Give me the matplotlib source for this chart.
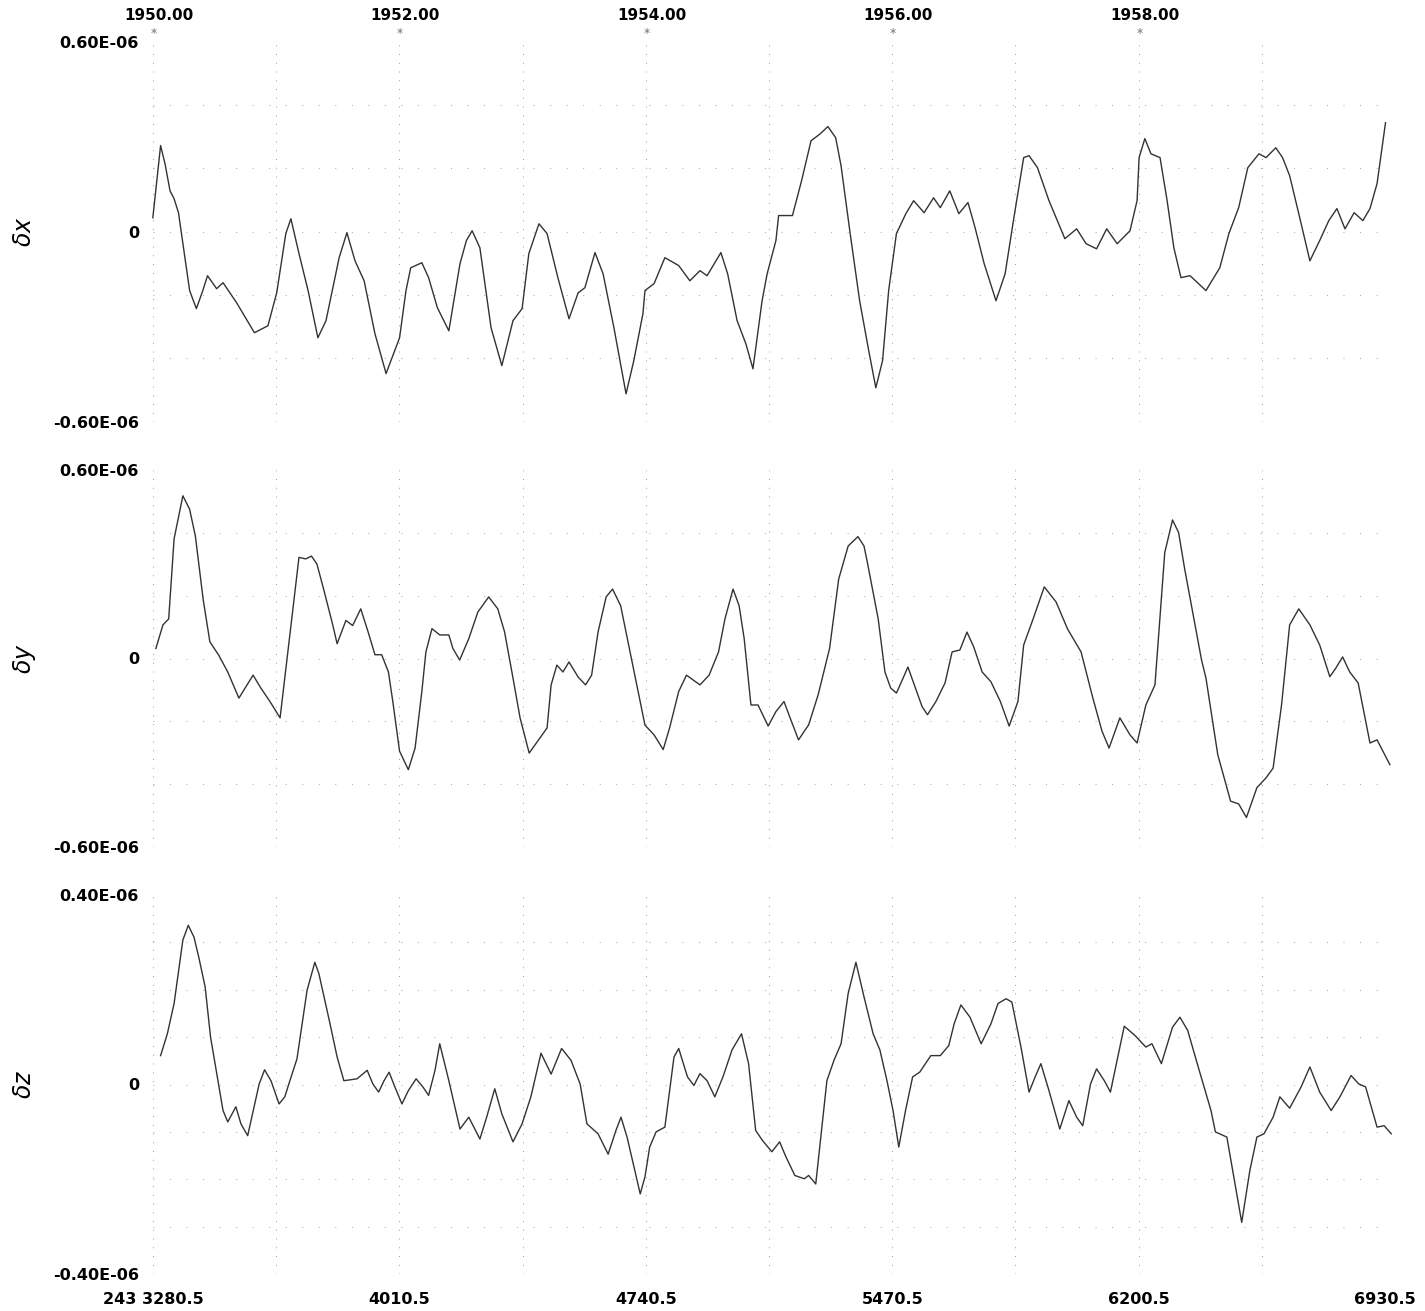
import numpy as np
import matplotlib
matplotlib.use("Agg")
import matplotlib.pyplot as plt

# julian date minus 2430000, values in units of 1E-06
dx_days = [3280, 3303, 3316, 3331, 3343, 3356, 3389, 3409, 3428, 3442, 3469, 3488, 3528, 3581, 3621, 3647,
           3674, 3689, 3713, 3740, 3769, 3793, 3832, 3855, 3879, 3906, 3938, 3971, 4011, 4030, 4044, 4077,
           4097, 4123, 4157, 4190, 4209, 4226, 4249, 4282, 4314, 4347, 4374, 4394, 4424, 4448, 4480, 4513,
           4540, 4560, 4590, 4614, 4646, 4682, 4705, 4732, 4738, 4765, 4797, 4838, 4871, 4901, 4922, 4963,
           4983, 5011, 5037, 5058, 5085, 5100, 5126, 5134, 5175, 5202, 5230, 5257, 5280, 5303, 5319, 5346,
           5374, 5401, 5422, 5442, 5460, 5483, 5511, 5534, 5565, 5593, 5613, 5641, 5668, 5695, 5716, 5743,
           5778, 5805, 5831, 5860, 5876, 5901, 5935, 5956, 5982, 6017, 6045, 6076, 6106, 6137, 6175, 6196,
           6202, 6219, 6237, 6264, 6285, 6305, 6326, 6353, 6400, 6441, 6468, 6497, 6524, 6557, 6578, 6607,
           6627, 6648, 6675, 6708, 6737, 6764, 6788, 6812, 6839, 6865, 6886, 6907, 6932]
dx_vals = [0.044, 0.272, 0.215, 0.129, 0.104, 0.060, -0.186, -0.243, -0.186, -0.139, -0.180, -0.161, -0.224,
           -0.319, -0.297, -0.193, -0.006, 0.041, -0.069, -0.186, -0.335, -0.281, -0.082, -0.003, -0.092,
           -0.155, -0.322, -0.448, -0.335, -0.186, -0.114, -0.098, -0.145, -0.240, -0.313, -0.101, -0.028,
           0.003, -0.051, -0.303, -0.423, -0.281, -0.243, -0.069, 0.025, -0.006, -0.145, -0.275, -0.193,
           -0.177, -0.066, -0.133, -0.303, -0.512, -0.407, -0.259, -0.186, -0.164, -0.082, -0.107, -0.155,
           -0.123, -0.139, -0.066, -0.133, -0.281, -0.354, -0.433, -0.218, -0.133, -0.028, 0.051, 0.051,
           0.161, 0.287, 0.309, 0.332, 0.297, 0.208, -0.006, -0.218, -0.376, -0.493, -0.407, -0.186, -0.006,
           0.057, 0.098, 0.060, 0.107, 0.076, 0.129, 0.057, 0.092, 0.013, -0.101, -0.218, -0.133, 0.044,
           0.234, 0.240, 0.202, 0.098, 0.044, -0.022, 0.009, -0.038, -0.054, 0.009, -0.038, 0.003, 0.098,
           0.234, 0.294, 0.246, 0.234, 0.098, -0.051, -0.145, -0.139, -0.186, -0.114, -0.006, 0.076, 0.202,
           0.246, 0.234, 0.265, 0.234, 0.177, 0.057, -0.092, -0.028, 0.035, 0.073, 0.009, 0.060, 0.035,
           0.073, 0.152, 0.344]

dy_days = [3289, 3310, 3327, 3343, 3369, 3389, 3406, 3429, 3449, 3475, 3502, 3535, 3555, 3577, 3600, 3627,
           3657, 3713, 3733, 3750, 3766, 3786, 3813, 3826, 3852, 3872, 3896, 3918, 3938, 3958, 3978, 3991,
           4011, 4037, 4057, 4077, 4089, 4107, 4130, 4157, 4169, 4189, 4216, 4243, 4275, 4302, 4322, 4347,
           4368, 4395, 4427, 4448, 4460, 4477, 4495, 4513, 4540, 4562, 4580, 4599, 4623, 4642, 4666, 4706,
           4738, 4765, 4792, 4811, 4838, 4861, 4901, 4928, 4956, 4975, 4999, 5017, 5032, 5052, 5073, 5103,
           5126, 5150, 5168, 5193, 5223, 5251, 5285, 5312, 5340, 5369, 5387, 5396, 5429, 5449, 5466, 5483,
           5503, 5517, 5538, 5559, 5575, 5600, 5627, 5648, 5671, 5692, 5712, 5737, 5763, 5791, 5817, 5843,
           5860, 5888, 5921, 5956, 5990, 6030, 6065, 6092, 6113, 6145, 6175, 6196, 6222, 6249, 6278, 6301,
           6319, 6337, 6387, 6400, 6435, 6473, 6497, 6520, 6551, 6578, 6599, 6624, 6648, 6675, 6708, 6737,
           6767, 6784, 6805, 6826, 6851, 6886, 6907, 6945]
dy_vals = [0.032, 0.107, 0.126, 0.381, 0.518, 0.475, 0.390, 0.189, 0.053, 0.011, -0.043, -0.126, -0.091,
           -0.053, -0.094, -0.137, -0.189, 0.322, 0.317, 0.326, 0.301, 0.221, 0.107, 0.047, 0.121, 0.105,
           0.158, 0.084, 0.012, 0.012, -0.043, -0.137, -0.295, -0.354, -0.285, -0.105, 0.021, 0.095, 0.075,
           0.075, 0.032, -0.005, 0.063, 0.148, 0.196, 0.158, 0.085, -0.062, -0.189, -0.301, -0.253, -0.221,
           -0.084, -0.021, -0.043, -0.011, -0.059, -0.084, -0.053, 0.084, 0.196, 0.221, 0.168, -0.043,
           -0.212, -0.243, -0.290, -0.221, -0.105, -0.053, -0.084, -0.053, 0.021, 0.126, 0.221, 0.168, 0.063,
           -0.148, -0.148, -0.215, -0.169, -0.137, -0.189, -0.259, -0.211, -0.116, 0.032, 0.253, 0.358,
           0.388, 0.358, 0.311, 0.126, -0.043, -0.094, -0.110, -0.062, -0.027, -0.090, -0.153, -0.179,
           -0.137, -0.078, 0.021, 0.027, 0.084, 0.037, -0.043, -0.074, -0.137, -0.215, -0.137, 0.043, 0.126,
           0.228, 0.180, 0.094, 0.021, -0.126, -0.231, -0.285, -0.189, -0.243, -0.269, -0.148, -0.084, 0.337,
           0.441, 0.401, 0.285, -0.005, -0.062, -0.306, -0.454, -0.463, -0.506, -0.411, -0.380, -0.349,
           -0.148, 0.107, 0.158, 0.107, 0.043, -0.058, -0.032, 0.005, -0.043, -0.078, -0.269, -0.259, -0.338]

dz_days = [3303, 3323, 3343, 3369, 3385, 3402, 3416, 3435, 3451, 3488, 3502, 3526, 3541, 3561, 3595, 3611,
           3630, 3654, 3671, 3686, 3707, 3737, 3760, 3772, 3805, 3826, 3846, 3885, 3915, 3932, 3949, 3965,
           3980, 3997, 4018, 4037, 4060, 4080, 4097, 4116, 4130, 4157, 4190, 4216, 4249, 4269, 4293, 4314,
           4347, 4374, 4400, 4430, 4460, 4491, 4519, 4546, 4566, 4599, 4629, 4652, 4667, 4685, 4724, 4738,
           4752, 4771, 4797, 4824, 4838, 4864, 4883, 4901, 4922, 4945, 4969, 4996, 5024, 5045, 5066, 5086,
           5114, 5137, 5154, 5182, 5210, 5223, 5244, 5277, 5298, 5319, 5340, 5363, 5387, 5414, 5434, 5455,
           5473, 5490, 5510, 5531, 5552, 5585, 5613, 5638, 5654, 5674, 5701, 5734, 5763, 5784, 5808, 5825,
           5852, 5876, 5894, 5911, 5935, 5967, 5994, 6017, 6035, 6058, 6076, 6099, 6117, 6158, 6189, 6222,
           6240, 6268, 6301, 6323, 6346, 6380, 6415, 6428, 6462, 6506, 6530, 6551, 6572, 6599, 6619, 6648,
           6682, 6708, 6737, 6771, 6797, 6830, 6853, 6873, 6907, 6928, 6949]
dz_vals = [0.061, 0.107, 0.171, 0.305, 0.336, 0.311, 0.269, 0.206, 0.100, -0.055, -0.079, -0.047, -0.083,
           -0.108, 0.001, 0.031, 0.008, -0.041, -0.026, 0.008, 0.054, 0.199, 0.258, 0.234, 0.128, 0.058,
           0.008, 0.012, 0.030, 0.001, -0.016, 0.008, 0.026, -0.005, -0.041, -0.013, 0.012, -0.005, -0.023,
           0.030, 0.086, 0.008, -0.094, -0.069, -0.115, -0.069, -0.009, -0.062, -0.121, -0.083, -0.026,
           0.066, 0.022, 0.076, 0.051, 0.001, -0.083, -0.104, -0.147, -0.097, -0.069, -0.111, -0.231,
           -0.195, -0.132, -0.100, -0.090, 0.058, 0.076, 0.016, -0.002, 0.023, 0.008, -0.026, 0.016, 0.073,
           0.107, 0.044, -0.097, -0.118, -0.142, -0.121, -0.150, -0.192, -0.199, -0.192, -0.210, 0.008,
           0.051, 0.086, 0.192, 0.258, 0.185, 0.107, 0.073, 0.008, -0.055, -0.132, -0.055, 0.016, 0.026,
           0.061, 0.061, 0.082, 0.128, 0.168, 0.142, 0.086, 0.128, 0.171, 0.181, 0.174, 0.079, -0.016,
           0.016, 0.044, -0.013, -0.094, -0.034, -0.069, -0.087, 0.001, 0.033, 0.008, -0.016, 0.123, 0.104,
           0.079, 0.086, 0.044, 0.121, 0.142, 0.114, 0.030, -0.055, -0.100, -0.111, -0.291, -0.182, -0.111,
           -0.104, -0.069, -0.026, -0.050, -0.005, 0.037, -0.016, -0.055, -0.026, 0.019, 0.001, -0.005,
           -0.090, -0.087, -0.104]

labels = [r"$\delta x$", r"$\delta y$", r"$\delta z$"]
limits = [0.6, 0.6, 0.4]
ytick_text = [["-0.60E-06", "0", "0.60E-06"], ["-0.60E-06", "0", "0.60E-06"], ["-0.40E-06", "0", "0.40E-06"]]
hgrid = [[-0.4, -0.2, 0.2, 0.4], [-0.4, -0.2, 0.2, 0.4], [-0.3, -0.2, -0.1, 0.1, 0.2, 0.3]]

bottom_ticks = [3280.5, 4010.5, 4740.5, 5470.5, 6200.5, 6930.5]
bottom_text = ["243 3280.5", "4010.5", "4740.5", "5470.5", "6200.5", "6930.5"]
grid_days = [3280.5, 3645.5, 4010.5, 4375.5, 4740.5, 5105.5, 5470.5, 5835.5, 6200.5, 6565.5, 6930.5]
year_days = [3282.5, 4012.5, 4743.5, 5473.5, 6204.5]
year_text = ["1950.00", "1952.00", "1954.00", "1956.00", "1958.00"]

fig = plt.figure(figsize=(14.25, 13.11), dpi=100)
W, H = 1425, 1311
boxes = [(41.7, 421.7), (470, 847), (895, 1274)]
series = [(dx_days, dx_vals), (dy_days, dy_vals), (dz_days, dz_vals)]
axes = []
for i, (top, bot) in enumerate(boxes):
    ax = fig.add_axes([153 / W, 1 - bot / H, 1232 / W, (bot - top) / H])
    lim = limits[i]
    for g in grid_days:
        ax.axvline(g, color="0.6", lw=0.7, ls=(0, (1, 8)), zorder=1)
    for g in hgrid[i] + [0]:
        ax.axhline(g, color="0.65", lw=0.7, ls=(0, (1, 16)), zorder=1)
    d, v = series[i]
    ax.plot(d, v, color="#333333", lw=1.0, clip_on=False, zorder=3)
    ax.set_xlim(3280.5, 6930.5)
    ax.set_ylim(-lim, lim)
    ax.set_yticks([-lim, 0, lim])
    ax.set_yticklabels(ytick_text[i], fontsize=11.5, fontweight="bold")
    ax.tick_params(axis="y", length=0, pad=10)
    for s in ax.spines.values():
        s.set_visible(False)
    if i == 2:
        ax.set_xticks(bottom_ticks)
        ax.set_xticklabels(bottom_text, fontsize=11.5, fontweight="bold")
        ax.tick_params(axis="x", length=0, pad=13)
    else:
        ax.set_xticks([])
    mid = (top + bot) / 2
    fig.text(24 / W, 1 - mid / H, labels[i], rotation=90, ha="center", va="center", fontsize=17)
    axes.append(ax)

ax1 = axes[0]
tr = ax1.get_xaxis_transform()
for yd, yt in zip(year_days, year_text):
    ax1.text(yd + 15, 1.068, yt, transform=tr, ha="center", va="center", fontsize=11, fontweight="bold")
    ax1.text(yd, 1.022, "*", transform=tr, ha="center", va="center", fontsize=9, color="0.45")

fig.savefig("out.png", dpi=100, facecolor="white")
